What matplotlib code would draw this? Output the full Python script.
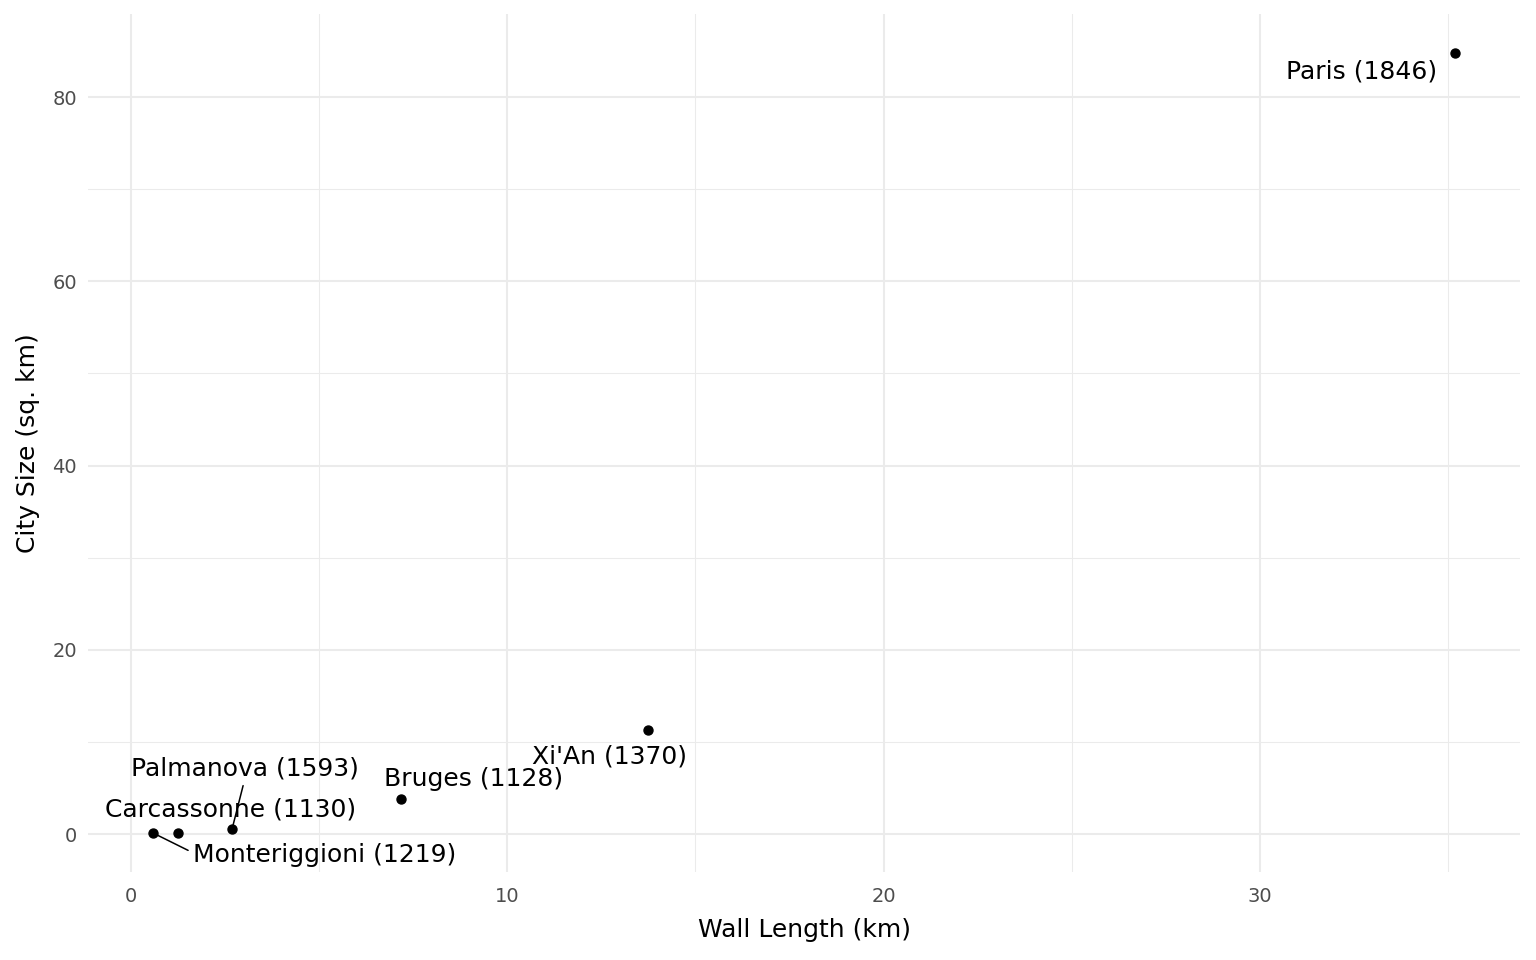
import matplotlib
matplotlib.use("Agg")
import matplotlib.pyplot as plt
from matplotlib.ticker import MultipleLocator

# ---- data ----
cities = ["Paris", "Xi'An", "Bruges", "Palmanova", "Carcassonne", "Monteriggioni"]
years = [1846, 1370, 1128, 1593, 1130, 1219]
wall_length = [35.19, 13.73, 7.17, 2.68, 1.25, 0.58]
city_size = [84.8, 11.27, 3.79, 0.54, 0.11, 0.11]

# ---- label placement (layout only, data coords) ----
label_pos = {
    "Paris": (32.72, 82.8),
    "Xi'An": (12.71, 8.45),
    "Bruges": (9.10, 5.95),
    "Palmanova": (3.01, 7.15),
    "Carcassonne": (2.63, 2.7),
    "Monteriggioni": (5.15, -2.3),
}
segment_anchor = {"Palmanova": (0.5, 0.0), "Monteriggioni": (-0.005, 0.62)}

plt.rcParams['font.family'] = ['DejaVu Sans']

fig = plt.figure(figsize=(15.36, 9.6), dpi=100)
ax = fig.add_axes([0.0573, 0.0917, 0.9323, 0.8937])

ax.set_xlim(-1.15, 36.92)
ax.set_ylim(-4.12, 89.03)

ax.xaxis.set_major_locator(MultipleLocator(10))
ax.xaxis.set_minor_locator(MultipleLocator(5))
ax.yaxis.set_major_locator(MultipleLocator(20))
ax.yaxis.set_minor_locator(MultipleLocator(10))
ax.grid(which='major', color='#EBEBEB', linewidth=1.5)
ax.grid(which='minor', color='#EBEBEB', linewidth=0.75)
ax.set_axisbelow(True)
for s in ax.spines.values():
    s.set_visible(False)
ax.tick_params(which='both', length=0)
ax.tick_params(axis='both', labelsize=14, labelcolor='#4D4D4D')
ax.tick_params(axis='x', pad=11)
ax.tick_params(axis='y', pad=8)

ax.scatter(wall_length, city_size, s=42, color='black', zorder=3)

for c, yr, x, y in zip(cities, years, wall_length, city_size):
    tx, ty = label_pos[c]
    txt = f"{c} ({yr})"
    if c in segment_anchor:
        ax.annotate(txt, xy=(x, y), xytext=(tx, ty), ha='center', va='center',
                    fontsize=18, color='black',
                    arrowprops=dict(arrowstyle='-', color='black', lw=1.1,
                                    relpos=segment_anchor[c],
                                    shrinkA=2, shrinkB=3))
    else:
        ax.text(tx, ty, txt, ha='center', va='center', fontsize=18, color='black')

ax.set_xlabel("Wall Length (km)", fontsize=18, va='center')
ax.set_ylabel("City Size (sq. km)", fontsize=18, va='center')
ax.xaxis.set_label_coords(0.5, -0.0676)
ax.yaxis.set_label_coords(-0.0419, 0.5)

fig.savefig("out.png", dpi=100, facecolor='white')
